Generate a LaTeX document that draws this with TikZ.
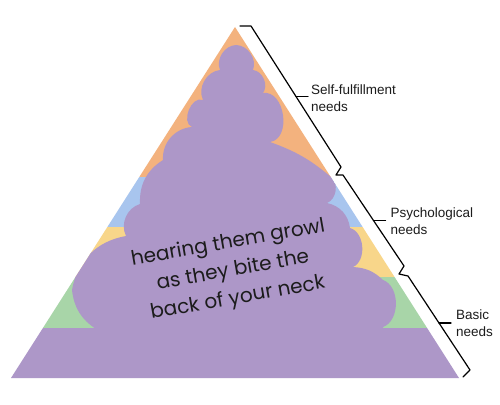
\documentclass[tikz,border=0pt]{standalone}
\usepackage{fontspec}
\setmainfont{Liberation Sans}
\newfontfamily\memefont{Poppins}
\usetikzlibrary{calc}
\definecolor{cOrange}{HTML}{F3B27E}
\definecolor{cBlue}{HTML}{A8C5EE}
\definecolor{cYellow}{HTML}{F8D68A}
\definecolor{cGreen}{HTML}{A8D5A8}
\definecolor{cPurple}{HTML}{AD97C8}
\definecolor{cText}{HTML}{1C1C1C}
\begin{document}
\begin{tikzpicture}[x=1pt,y=-1pt,
  meme/.style={font=\memefont\fontsize{20}{28}\selectfont, text=cText, align=center, inner sep=0pt, rotate=10},
  lbl/.style={font=\fontsize{13.5}{17}\selectfont, text=cText, align=left, inner sep=0pt, anchor=west},
  brk/.style={draw=black, line width=1.2pt, line join=round, line cap=round}]
\useasboundingbox (0,0) rectangle (500,404);
\fill[white] (0,0) rectangle (500,404);
\coordinate (apex) at (235,27);
\coordinate (bl) at (11,378);
\coordinate (br) at (459,378);
\begin{scope}
  \clip (apex) -- (bl) -- (br) -- cycle;
  \fill[cOrange] (0,0) rectangle (500,177);
  \fill[cBlue] (0,177) rectangle (500,227);
  \fill[cYellow] (0,227) rectangle (500,277);
  \fill[cGreen] (0,277) rectangle (500,328);
  \fill[cPurple] (0,328) rectangle (500,404);
  \fill[cPurple] (98,350) -- (96,329)
    to[bend left=25] (72,290)
    to[bend left=35] (126,236)
    to[bend left=50] (140,204)
    to[bend left=30] (163,160)
    to[bend left=45] (192,127)
    to[bend left=90,looseness=1.1] (203,100)
    to[bend left=55] (220,70)
    to[bend left=55] (236,45)
    to[bend left=55] (253,70)
    to[bend left=60] (263,93)
    to[bend left=90,looseness=1.15] (270,142)
    to[bend left=10] (331,177)
    to[bend left=60] (327,203)
    to[bend left=35] (350,228)
    to[bend left=70] (353,267)
    to[bend left=20] (383,280)
    to[bend left=70] (383,327)
    -- (385,350) -- cycle;
\end{scope}
% brackets
\coordinate (b1a) at (240,26);
\coordinate (b1s) at (251,26);
\coordinate (b1e) at (341,167);
\coordinate (b1z) at (336,175);
\coordinate (b2s) at (343,175);
\coordinate (b2e) at (404,266);
\coordinate (b2z) at (399,274);
\coordinate (b3s) at (408,276);
\coordinate (b3e) at (470,370);
\coordinate (b3z) at (463,377);
\draw[brk] (b1a) -- (b1s) -- (b1e) -- (b1z) -- (b2s) -- (b2e) -- (b2z) -- (b3s) -- (b3e) -- (b3z);
\coordinate (m1) at ($(b1s)!0.5!(b1e)$);
\coordinate (m2) at ($(b2s)!0.5!(b2e)$);
\coordinate (m3) at ($(b3s)!0.5!(b3e)$);
\coordinate (k1) at ($(m1)+(12,0)$);
\coordinate (k2) at ($(m2)+(12,0)$);
\coordinate (k3) at ($(m3)+(12,0)$);
\draw[brk] (m1) -- (k1);
\draw[brk] (m2) -- (k2);
\draw[brk] (m3) -- (k3);
\node[lbl] (l1) at ($(k1)+(3,2)$) {Self-fulfillment\\needs};
\node[lbl] (l2) at ($(k2)+(5,1)$) {Psychological\\needs};
\node[lbl] (l3) at ($(k3)+(5,0)$) {Basic\\needs};
% meme text
\node[meme] (meme) at (233,271) {hearing them growl\\as they bite the\\back of your neck};
\end{tikzpicture}
\end{document}
